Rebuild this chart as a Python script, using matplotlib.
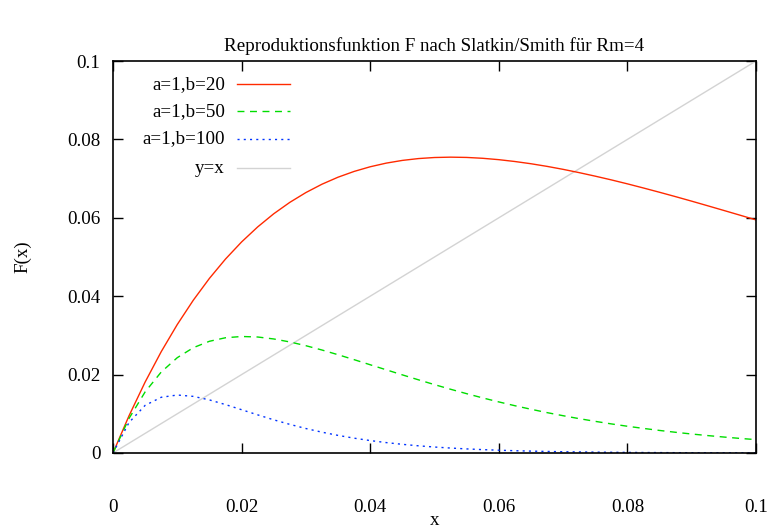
import matplotlib
matplotlib.use("Agg")
import matplotlib.pyplot as plt

plt.rcParams['font.family'] = ['Liberation Serif', 'DejaVu Serif']

x = [0.0, 0.0025, 0.005, 0.0075, 0.01, 0.0125, 0.015, 0.0175, 0.02, 0.0225,
     0.025, 0.0275, 0.03, 0.0325, 0.035, 0.0375, 0.04, 0.0425, 0.045, 0.0475,
     0.05, 0.0525, 0.055, 0.0575, 0.06, 0.0625, 0.065, 0.0675, 0.07, 0.0725,
     0.075, 0.0775, 0.08, 0.0825, 0.085, 0.0875, 0.09, 0.0925, 0.095, 0.0975, 0.1]

f_b20 = [0.0, 0.00951, 0.01810, 0.02584, 0.03278, 0.03900, 0.04455, 0.04948,
         0.05384, 0.05767, 0.06103, 0.06394, 0.06644, 0.06857, 0.07036, 0.07183,
         0.07302, 0.07395, 0.07464, 0.07511, 0.07538, 0.07547, 0.07540, 0.07518,
         0.07483, 0.07436, 0.07379, 0.07312, 0.07236, 0.07152, 0.07062, 0.06967,
         0.06866, 0.06760, 0.06651, 0.06539, 0.06424, 0.06306, 0.06187, 0.06067,
         0.05946]

f_b50 = [0.0, 0.00883, 0.01559, 0.02065, 0.02432, 0.02687, 0.02850, 0.02940,
         0.02972, 0.02959, 0.02909, 0.02833, 0.02737, 0.02627, 0.02507, 0.02381,
         0.02251, 0.02122, 0.01993, 0.01867, 0.01744, 0.01626, 0.01513, 0.01405,
         0.01303, 0.01206, 0.01116, 0.01030, 0.00951, 0.00876, 0.00807, 0.00742,
         0.00682, 0.00627, 0.00575, 0.00528, 0.00484, 0.00444, 0.00407, 0.00372,
         0.00341]

f_b100 = [0.0, 0.00779, 0.01215, 0.01421, 0.01479, 0.01444, 0.01354, 0.01235,
          0.01104, 0.00973, 0.00846, 0.00730, 0.00624, 0.00531, 0.00449, 0.00378,
          0.00317, 0.00265, 0.00221, 0.00183, 0.00152, 0.00126, 0.00104, 0.00086,
          0.00071, 0.00058, 0.00048, 0.00039, 0.00032, 0.00027, 0.00022, 0.00018,
          0.00015, 0.00012, 0.00010, 0.00008, 0.00007, 0.00005, 0.00004, 0.00004,
          0.00003]

diag = [0.0, 0.1]

labels = ['a=1,b=20', 'a=1,b=50', 'a=1,b=100', 'y=x']
ticks = [0, 0.02, 0.04, 0.06, 0.08, 0.1]
tick_labels = ['0', '0.02', '0.04', '0.06', '0.08', '0.1']

fig = plt.figure(figsize=(7.67, 5.3), dpi=100)
ax = fig.add_axes([0.1473, 0.1453, 0.8384, 0.7396])

styles = [
    dict(color='#ff2a00', linestyle='-'),
    dict(color='#00dd00', linestyle=(0, (5, 4))),
    dict(color='#0033ff', linestyle=(0, (1.5, 3))),
    dict(color='#d3d3d3', linestyle='-'),
]
series = [(x, f_b20), (x, f_b50), (x, f_b100), (diag, diag)]

# draw the y=x line first so curves lie on top
for i in [3, 0, 1, 2]:
    xs, ys = series[i]
    ax.plot(xs, ys, linewidth=1.0, **styles[i])

# gnuplot-style key: right-aligned labels, sample line after
rows = [0.941, 0.872, 0.801, 0.727]
for lab, st, yy in zip(labels, styles, rows):
    ax.plot([0.193, 0.275], [yy, yy], transform=ax.transAxes, linewidth=1.0, **st)
    ax.text(0.174, yy, lab, transform=ax.transAxes, ha='right', va='center', fontsize=13.7)

ax.set_xlim(0, 0.1)
ax.set_ylim(0, 0.1)
ax.set_xticks(ticks)
ax.set_xticklabels(tick_labels)
ax.set_yticks(ticks)
ax.set_yticklabels(tick_labels)
ax.tick_params(direction='in', length=7, width=1, top=True, right=True,
               labelsize=13.7)
ax.tick_params(axis='x', pad=33)
ax.tick_params(axis='y', pad=9)
for s in ax.spines.values():
    s.set_linewidth(1.2)

ax.set_xlabel('x', fontsize=13.7, labelpad=-3)
ax.set_ylabel('F(x)', fontsize=13.7, labelpad=26)
ax.set_title('Reproduktionsfunktion F nach Slatkin/Smith für Rm=4', fontsize=13.7, pad=7)

fig.savefig('out.png', dpi=100)
